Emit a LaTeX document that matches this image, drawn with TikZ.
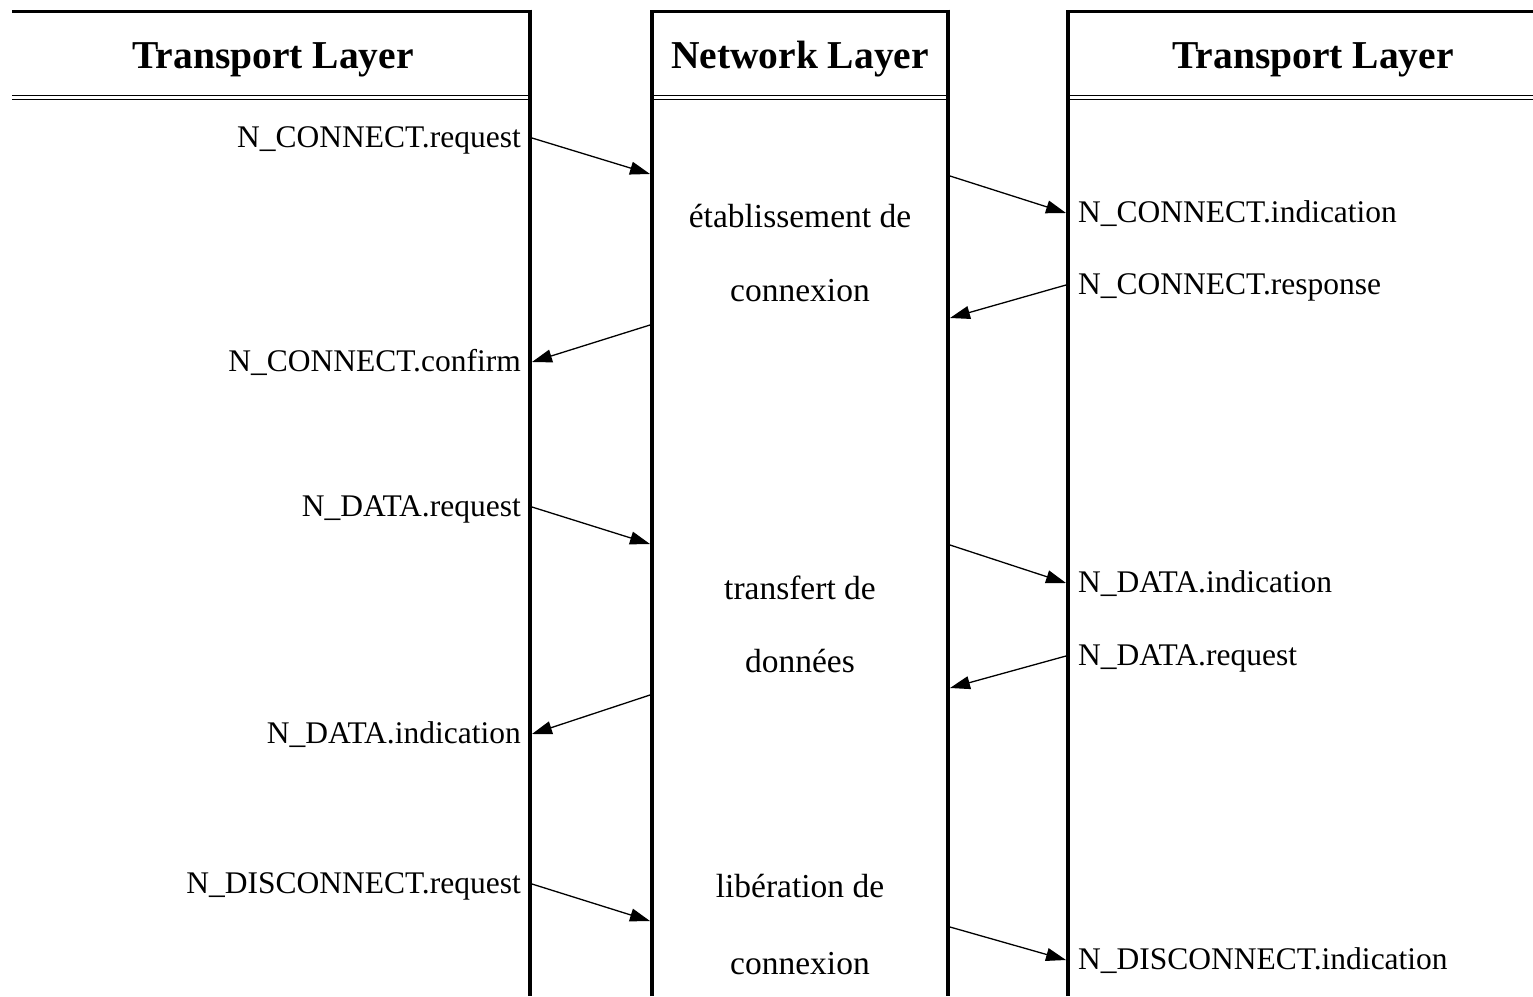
\documentclass[tikz,border=0pt]{standalone}
\usepackage{fontspec}
\setmainfont{Liberation Serif}
\usetikzlibrary{arrows.meta}
\begin{document}
\begin{tikzpicture}[x=1pt,y=-1pt,
  lifeline/.style={line width=4.5pt},
  topline/.style={line width=3pt},
  rule/.style={line width=1.2pt},
  msg/.style={line width=1.3pt,-{Triangle[length=20pt,width=13pt]}},
  head/.style={font=\fontsize{39.5}{42}\selectfont\bfseries, inner sep=0pt,
               text height=28pt, text depth=9pt},
  prim/.style={font=\fontsize{31.5}{34}\selectfont, inner ysep=0pt,
               text height=24pt, text depth=6pt},
  lprim/.style={prim, inner xsep=11pt, anchor=east},
  rprim/.style={prim, inner xsep=12pt, anchor=west},
  phase/.style={font=\fontsize{33.5}{36}\selectfont, inner sep=0pt,
                text height=22pt, text depth=8pt},
]
\useasboundingbox (0,0) rectangle (1533,996);

% column frames
\draw[topline] (12,11) -- (530,11);
\draw[lifeline] (530,9.5) -- (530,996);
\draw[topline] (652,11) -- (948,11);
\draw[lifeline] (652,996) -- (652,9.5);
\draw[lifeline] (948,9.5) -- (948,996);
\draw[topline] (1068,11) -- (1533,11);
\draw[lifeline] (1068,996) -- (1068,9.5);

% double rules under the headers
\foreach \y in {95.5,99.5} {
  \draw[rule] (12,\y) -- (528,\y);
  \draw[rule] (654,\y) -- (946,\y);
  \draw[rule] (1070,\y) -- (1533,\y);
}

% headers
\node[head] (hl) at (273,58.5) {Transport Layer};
\node[head] (hm) at (800,58.5) {Network Layer};
\node[head] (hr) at (1313,58.5) {Transport Layer};

% phases in the network layer
\node[phase] (p1a) at (800,220) {établissement de};
\node[phase] (p1b) at (800,294) {connexion};
\node[phase] (p2a) at (800,592) {transfert de};
\node[phase] (p2b) at (800,665) {données};
\node[phase] (p3a) at (800,890) {libération de};
\node[phase] (p3b) at (800,967) {connexion};

% primitives, left side
\node[lprim] (lcreq)  at (532,138) {N\_CONNECT.request};
\node[lprim] (lcconf) at (532,362) {N\_CONNECT.confirm};
\node[lprim] (ldreq)  at (532,507) {N\_DATA.request};
\node[lprim] (ldind)  at (532,734) {N\_DATA.indication};
\node[lprim] (lxreq)  at (532,884) {N\_DISCONNECT.request};

% primitives, right side
\node[rprim] (rcind)  at (1066,213) {N\_CONNECT.indication};
\node[rprim] (rcresp) at (1066,285) {N\_CONNECT.response};
\node[rprim] (rdind)  at (1066,583) {N\_DATA.indication};
\node[rprim] (rdreq)  at (1066,656) {N\_DATA.request};
\node[rprim] (rxind)  at (1066,960) {N\_DISCONNECT.indication};

% points on the network layer boundaries
\coordinate (a1) at (650,174);
\coordinate (b1) at (950,176);
\coordinate (c1) at (950,318);
\coordinate (d1) at (650,325);
\coordinate (a2) at (650,544);
\coordinate (b2) at (950,545);
\coordinate (c2) at (950,688);
\coordinate (d2) at (650,695);
\coordinate (a3) at (650,921);
\coordinate (b3) at (950,927);

% service primitive exchanges
\draw[msg] (lcreq.east) -- (a1);
\draw[msg] (b1) -- (rcind.west);
\draw[msg] (rcresp.west) -- (c1);
\draw[msg] (d1) -- (lcconf.east);
\draw[msg] (ldreq.east) -- (a2);
\draw[msg] (b2) -- (rdind.west);
\draw[msg] (rdreq.west) -- (c2);
\draw[msg] (d2) -- (ldind.east);
\draw[msg] (lxreq.east) -- (a3);
\draw[msg] (b3) -- (rxind.west);
\end{tikzpicture}
\end{document}
